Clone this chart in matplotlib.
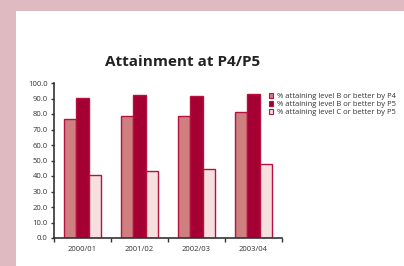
import matplotlib
matplotlib.use('Agg')
import matplotlib.pyplot as plt
from matplotlib.patches import Rectangle, Patch
import numpy as np

plt.rcParams['font.family'] = ['Open Sans', 'DejaVu Sans']

years = ['2000/01', '2001/02', '2002/03', '2003/04']
p4_level_b = [77.0, 78.8, 78.8, 81.0]
p5_level_b = [90.6, 92.4, 91.8, 93.2]
p5_level_c = [40.8, 43.2, 44.2, 47.6]
series_names = ['% attaining level B or better by P4',
                '% attaining level B or better by P5',
                '% attaining level C or better by P5']
yticks = [0, 10, 20, 30, 40, 50, 60, 70, 80, 90, 100]

W, H = 404, 266
fig = plt.figure(figsize=(W / 100, H / 100), dpi=100)
fig.patch.set_facecolor('#dfbac1')
# white panel
fig.patches.append(Rectangle((16 / W, 0), 1 - 16 / W, 1 - 11 / H,
                             transform=fig.transFigure, facecolor='white',
                             edgecolor='none', zorder=-5))

ax = fig.add_axes([54 / W, (H - 238) / H, (282 - 54) / W, (238 - 83) / H])
ax.set_facecolor('none')
ax.set_zorder(2)

edge = '#b5123f'
fills = ['#cf7f7f', '#a50034', '#f6dfdf']
x = np.arange(len(years)) + 0.5
w = 0.22
for i, (vals, c) in enumerate(zip([p4_level_b, p5_level_b, p5_level_c], fills)):
    ax.bar(x + (i - 1) * w, vals, width=w, color=c, edgecolor=edge,
           linewidth=1.0, label=series_names[i], zorder=2)

ax.set_xlim(0, len(years))
ax.set_ylim(0, 100)
ax.set_yticks(yticks)
ax.set_yticklabels(['%.1f' % v for v in yticks])
ax.set_xticks(np.arange(len(years) + 1))
ax.set_xticklabels([])
ax.set_xticks(x, minor=True)
ax.set_xticklabels(years, minor=True)
ax.tick_params(axis='x', which='minor', length=0, pad=6, labelsize=5.5, colors='#333333')
ax.tick_params(axis='x', which='major', length=3, width=1, color='#333333', direction='out')
ax.tick_params(axis='y', length=2.5, width=1, color='#333333', labelsize=5.5,
               labelcolor='#333333', pad=2)
for s in ['top', 'right']:
    ax.spines[s].set_visible(False)
for s in ['left', 'bottom']:
    ax.spines[s].set_color('#333333')
    ax.spines[s].set_linewidth(1.2)

fig.text(183 / W, 1 - 62 / H, 'Attainment at P4/P5', ha='center', va='center',
         fontsize=11, fontweight='bold', color='#222222')

handles = [Patch(facecolor=c, edgecolor=edge, linewidth=0.8) for c in fills]
fig.legend(handles, series_names, loc='upper left',
           bbox_to_anchor=(265 / W, 1 - 89 / H), frameon=False,
           fontsize=5.5, handlelength=0.6, handleheight=0.6,
           handletextpad=0.5, labelspacing=0.15, borderpad=0,
           labelcolor='#333333')

fig.savefig('out.png', dpi=100, facecolor=fig.get_facecolor())
